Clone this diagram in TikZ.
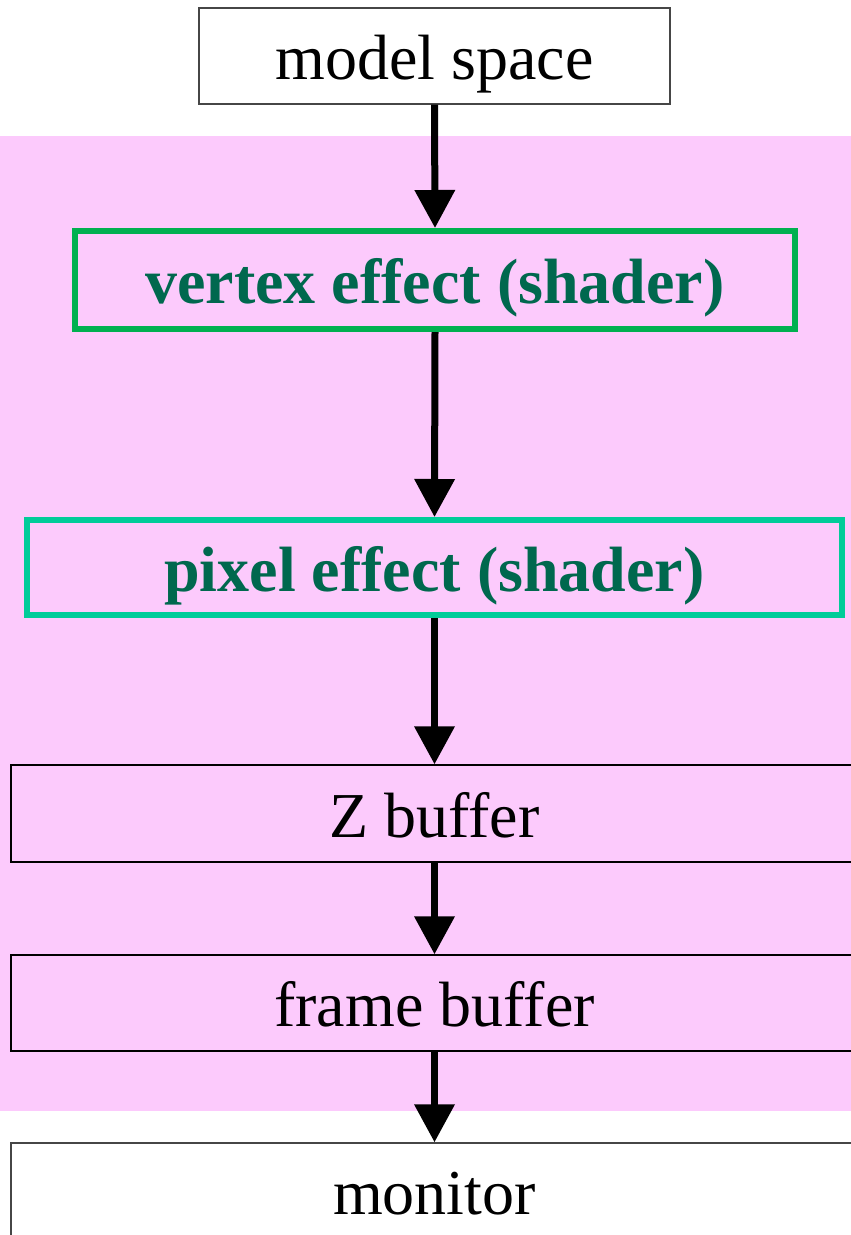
\documentclass[tikz,border=0pt]{standalone}
\usepackage{fontspec}
\setmainfont{Liberation Serif}
\usetikzlibrary{arrows.meta}
\definecolor{pinkbg}{RGB}{252,202,252}
\definecolor{vgreen}{RGB}{0,176,80}
\definecolor{pgreen}{RGB}{0,204,153}
\definecolor{tgreen}{RGB}{0,104,78}
\definecolor{edgegray}{RGB}{70,70,70}
\tikzset{
  box/.style={rectangle, inner sep=0pt, text height=60pt, text depth=13pt,
    font=\fontsize{64}{64}\selectfont, line width=1.4pt},
  plainbox/.style={box, draw=edgegray, fill=white},
  bufbox/.style={box, draw=black, fill=pinkbg},
  shaderbox/.style={box, line width=6pt, fill=pinkbg, text=tgreen,
    font=\fontsize{64}{64}\selectfont\bfseries},
  flow/.style={line width=7pt, -{Triangle[width=39pt,length=38pt]}}
}
\begin{document}
\begin{tikzpicture}[x=1pt,y=-1pt]
\useasboundingbox (0,0) rectangle (851,1235);
\fill[pinkbg] (0,136) rectangle (851,1111);
\node[plainbox, minimum width=471pt, minimum height=96pt] (model) at (434.5,56) {model space};
\node[shaderbox, draw=vgreen, minimum width=720pt, minimum height=98pt] (vertex) at (435,280) {vertex effect (shader)};
\node[shaderbox, draw=pgreen, minimum width=815pt, minimum height=95pt] (pixel) at (434.5,567.5) {pixel effect (shader)};
\node[bufbox, minimum width=847pt, minimum height=97pt] (zbuf) at (434.5,813.5) {Z buffer};
\node[bufbox, minimum width=847pt, minimum height=96pt] (frame) at (434.5,1003) {frame buffer};
\node[plainbox, minimum width=847pt, minimum height=96pt] (monitor) at (434.5,1191) {monitor};
\draw[flow] (model.south) -- (vertex.north);
\draw[flow] (vertex.south) -- (pixel.north);
\draw[flow] (pixel.south) -- (zbuf.north);
\draw[flow] (zbuf.south) -- (frame.north);
\draw[flow] (frame.south) -- (monitor.north);
\end{tikzpicture}
\end{document}
